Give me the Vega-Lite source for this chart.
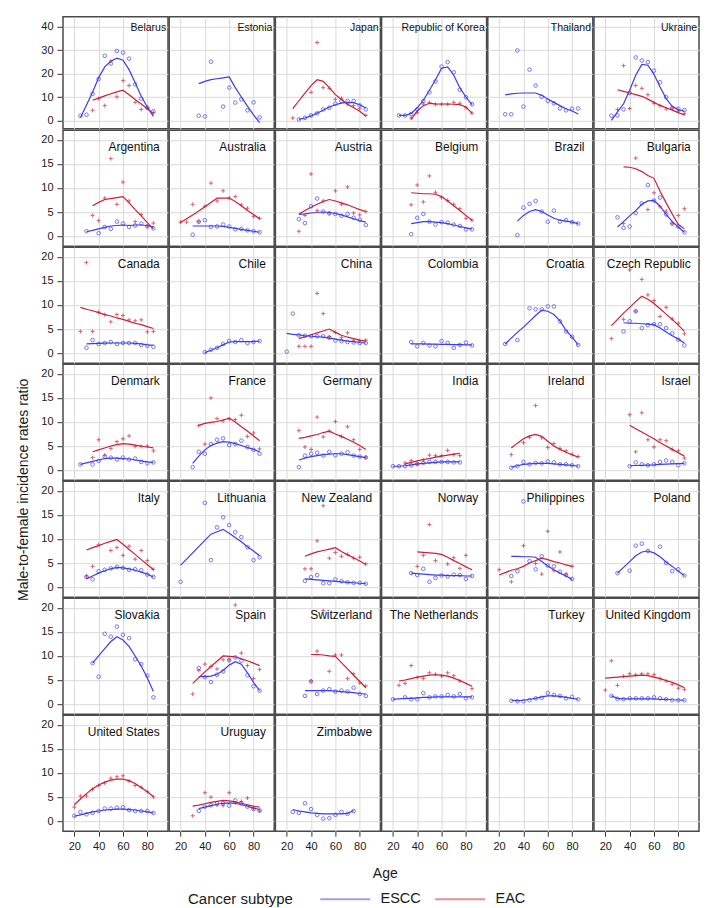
{
"$schema":"https://vega.github.io/schema/vega-lite/v6.json",
"background":"white",
"padding":{"left":16,"top":14.8,"right":5,"bottom":2},
"config":{
 "font":"Liberation Sans",
 "view":{"stroke":"#4a4a4a","strokeWidth":1.5},
 "header":{"labels":false,"labelExpr":"''","labelPadding":0,"titlePadding":0,"labelFontSize":1},
 "axis":{"labelFont":"Liberation Sans","labelFontSize":11,"labelColor":"#1a1a1a","titleFont":"Liberation Sans","titleFontSize":14,"titleFontWeight":"normal","titleColor":"#1a1a1a","tickColor":"#333333","domain":false,"gridWidth":1,"labelOverlap":false,"labelFlush":false},
 "legend":{"orient":"none","legendX":125,"legendY":875,"direction":"horizontal","titleOrient":"left","symbolType":"M-5,0H5","symbolSize":100,"symbolStrokeWidth":2,"symbolOpacity":0.5,"labelFontSize":14.5,"titleFontSize":15,"titleFontWeight":"normal","labelFont":"Liberation Sans","titleFont":"Liberation Sans","labelColor":"#1a1a1a","titleColor":"#1a1a1a","labelOffset":28,"columnPadding":10,"titlePadding":44}
},
"datasets":{
"top":[
{"c":"Belarus","s":"ESCC","a":25,"r":2.0,"f":1.1},{"c":"Belarus","s":"ESCC","a":30,"r":2.4,"f":6.6},{"c":"Belarus","s":"ESCC","a":35,"r":11.4,"f":12},{"c":"Belarus","s":"ESCC","a":40,"r":17.7,"f":18.3},{"c":"Belarus","s":"ESCC","a":45,"r":27.6,"f":22.9},{"c":"Belarus","s":"ESCC","a":50,"r":24.3,"f":25.3},{"c":"Belarus","s":"ESCC","a":55,"r":29.7,"f":26.6},{"c":"Belarus","s":"ESCC","a":60,"r":29,"f":25.7},{"c":"Belarus","s":"ESCC","a":65,"r":26.4,"f":21.7},{"c":"Belarus","s":"ESCC","a":70,"r":15.4,"f":16.1},{"c":"Belarus","s":"ESCC","a":75,"r":9.3,"f":10.3},{"c":"Belarus","s":"ESCC","a":80,"r":5.4,"f":5.7},{"c":"Belarus","s":"ESCC","a":85,"r":3.9,"f":1.7},
{"c":"Belarus","s":"EAC","a":35,"r":4.3,"f":8.6},{"c":"Belarus","s":"EAC","a":40,"r":9.3,"f":9.5},{"c":"Belarus","s":"EAC","a":45,"r":6.3,"f":10.5},{"c":"Belarus","s":"EAC","a":50,"r":25.4,"f":11.4},{"c":"Belarus","s":"EAC","a":55,"r":10.1,"f":12.2},{"c":"Belarus","s":"EAC","a":60,"r":17,"f":12.9},{"c":"Belarus","s":"EAC","a":65,"r":14.9,"f":11},{"c":"Belarus","s":"EAC","a":70,"r":7.7,"f":8.9},{"c":"Belarus","s":"EAC","a":75,"r":4.7,"f":7},{"c":"Belarus","s":"EAC","a":80,"r":5.4,"f":5},{"c":"Belarus","s":"EAC","a":85,"r":3.3,"f":2.9},
{"c":"Estonia","s":"ESCC","a":35,"r":2.0,"f":15.7},{"c":"Estonia","s":"ESCC","a":40,"r":1.7,"f":16.7},{"c":"Estonia","s":"ESCC","a":45,"r":25.1,"f":17.4},{"c":"Estonia","s":"ESCC","a":50,"f":17.8},{"c":"Estonia","s":"ESCC","a":55,"r":5.9,"f":18.2},{"c":"Estonia","s":"ESCC","a":60,"r":14,"f":18.6},{"c":"Estonia","s":"ESCC","a":65,"r":7.6,"f":14},{"c":"Estonia","s":"ESCC","a":70,"r":9,"f":10},{"c":"Estonia","s":"ESCC","a":75,"r":4.3,"f":6.1},{"c":"Estonia","s":"ESCC","a":80,"r":7.7,"f":2.4},{"c":"Estonia","s":"ESCC","a":85,"r":1.3,"f":-1},
{"c":"Japan","s":"ESCC","a":30,"r":0.4,"f":0.4},{"c":"Japan","s":"ESCC","a":35,"r":1.1,"f":1.0},{"c":"Japan","s":"ESCC","a":40,"r":2.1,"f":1.9},{"c":"Japan","s":"ESCC","a":45,"r":3.0,"f":3.1},{"c":"Japan","s":"ESCC","a":50,"r":4.7,"f":4.3},{"c":"Japan","s":"ESCC","a":55,"r":5.4,"f":5.7},{"c":"Japan","s":"ESCC","a":60,"r":7.1,"f":6.7},{"c":"Japan","s":"ESCC","a":65,"r":8.3,"f":7.4},{"c":"Japan","s":"ESCC","a":70,"r":8.3,"f":7.7},{"c":"Japan","s":"ESCC","a":75,"r":8.3,"f":7.6},{"c":"Japan","s":"ESCC","a":80,"r":6.4,"f":6.7},{"c":"Japan","s":"ESCC","a":85,"r":4.7,"f":5.3},
{"c":"Japan","s":"EAC","a":25,"r":1.0,"f":5.0},{"c":"Japan","s":"EAC","a":30,"f":8.4},{"c":"Japan","s":"EAC","a":35,"f":11.7},{"c":"Japan","s":"EAC","a":40,"r":12,"f":14.9},{"c":"Japan","s":"EAC","a":45,"r":33.3,"f":17.4},{"c":"Japan","s":"EAC","a":50,"r":14,"f":16.7},{"c":"Japan","s":"EAC","a":55,"r":13.7,"f":14},{"c":"Japan","s":"EAC","a":60,"r":9,"f":11},{"c":"Japan","s":"EAC","a":65,"r":9.4,"f":8.9},{"c":"Japan","s":"EAC","a":70,"r":7,"f":6.9},{"c":"Japan","s":"EAC","a":75,"r":6.3,"f":5.4},{"c":"Japan","s":"EAC","a":80,"r":5,"f":3.9},{"c":"Japan","s":"EAC","a":85,"r":2.1,"f":1.9},
{"c":"Republic of Korea","s":"ESCC","a":25,"r":2.1,"f":2.1},{"c":"Republic of Korea","s":"ESCC","a":30,"r":2.1,"f":2.1},{"c":"Republic of Korea","s":"ESCC","a":35,"r":2.7,"f":3.0},{"c":"Republic of Korea","s":"ESCC","a":40,"r":4.7,"f":5.4},{"c":"Republic of Korea","s":"ESCC","a":45,"r":8.3,"f":8.6},{"c":"Republic of Korea","s":"ESCC","a":50,"r":12,"f":12.9},{"c":"Republic of Korea","s":"ESCC","a":55,"r":16.7,"f":17.4},{"c":"Republic of Korea","s":"ESCC","a":60,"r":23,"f":22.3},{"c":"Republic of Korea","s":"ESCC","a":65,"r":24.9,"f":22.9},{"c":"Republic of Korea","s":"ESCC","a":70,"r":20.6,"f":19.3},{"c":"Republic of Korea","s":"ESCC","a":75,"r":13.1,"f":14},{"c":"Republic of Korea","s":"ESCC","a":80,"r":9.9,"f":10},{"c":"Republic of Korea","s":"ESCC","a":85,"r":6.9,"f":6.7},
{"c":"Republic of Korea","s":"EAC","a":35,"r":1.0,"f":0.4},{"c":"Republic of Korea","s":"EAC","a":40,"r":3.3,"f":4.0},{"c":"Republic of Korea","s":"EAC","a":45,"r":7.0,"f":6.3},{"c":"Republic of Korea","s":"EAC","a":50,"r":7.7,"f":7.3},{"c":"Republic of Korea","s":"EAC","a":55,"r":6.9,"f":7.1},{"c":"Republic of Korea","s":"EAC","a":60,"r":6.9,"f":7.0},{"c":"Republic of Korea","s":"EAC","a":65,"r":6.9,"f":7.0},{"c":"Republic of Korea","s":"EAC","a":70,"r":7.7,"f":6.9},{"c":"Republic of Korea","s":"EAC","a":75,"r":7.3,"f":6.7},{"c":"Republic of Korea","s":"EAC","a":80,"r":5.4,"f":5.7},{"c":"Republic of Korea","s":"EAC","a":85,"r":3.1,"f":3.1},
{"c":"Thailand","s":"ESCC","a":25,"r":2.6,"f":10.9},{"c":"Thailand","s":"ESCC","a":30,"r":2.6,"f":11.3},{"c":"Thailand","s":"ESCC","a":35,"r":29.9,"f":11.6},{"c":"Thailand","s":"ESCC","a":40,"r":5.9,"f":11.7},{"c":"Thailand","s":"ESCC","a":45,"r":21.7,"f":11.7},{"c":"Thailand","s":"ESCC","a":50,"r":14.9,"f":11.7},{"c":"Thailand","s":"ESCC","a":55,"r":10.1,"f":10.7},{"c":"Thailand","s":"ESCC","a":60,"r":8.3,"f":9.1},{"c":"Thailand","s":"ESCC","a":65,"r":7.3,"f":7.7},{"c":"Thailand","s":"ESCC","a":70,"r":5.1,"f":6.3},{"c":"Thailand","s":"ESCC","a":75,"r":4.3,"f":5.0},{"c":"Thailand","s":"ESCC","a":80,"r":5.0,"f":4.0},{"c":"Thailand","s":"ESCC","a":85,"r":5.1,"f":2.7},
{"c":"Ukraine","s":"ESCC","a":25,"r":2.0,"f":0.0},{"c":"Ukraine","s":"ESCC","a":30,"r":2.1,"f":3.6},{"c":"Ukraine","s":"ESCC","a":35,"r":4.7,"f":7.1},{"c":"Ukraine","s":"ESCC","a":40,"r":11.7,"f":12.9},{"c":"Ukraine","s":"ESCC","a":45,"r":26.9,"f":19.3},{"c":"Ukraine","s":"ESCC","a":50,"r":25.6,"f":23.9},{"c":"Ukraine","s":"ESCC","a":55,"r":24.9,"f":23.6},{"c":"Ukraine","s":"ESCC","a":60,"r":21.3,"f":19.7},{"c":"Ukraine","s":"ESCC","a":65,"r":16.3,"f":14.3},{"c":"Ukraine","s":"ESCC","a":70,"r":9.9,"f":9.3},{"c":"Ukraine","s":"ESCC","a":75,"r":5.4,"f":6.0},{"c":"Ukraine","s":"ESCC","a":80,"r":5.0,"f":4.6},{"c":"Ukraine","s":"ESCC","a":85,"r":4.4,"f":3.9},
{"c":"Ukraine","s":"EAC","a":30,"r":4.7,"f":13.1},{"c":"Ukraine","s":"EAC","a":35,"r":23.4,"f":12.4},{"c":"Ukraine","s":"EAC","a":40,"r":5.1,"f":11.7},{"c":"Ukraine","s":"EAC","a":45,"r":14.9,"f":11.0},{"c":"Ukraine","s":"EAC","a":50,"r":13.7,"f":10.3},{"c":"Ukraine","s":"EAC","a":55,"r":11.0,"f":9.1},{"c":"Ukraine","s":"EAC","a":60,"r":7.3,"f":7.7},{"c":"Ukraine","s":"EAC","a":65,"r":6.3,"f":6.4},{"c":"Ukraine","s":"EAC","a":70,"r":4.9,"f":5.4},{"c":"Ukraine","s":"EAC","a":75,"r":5.3,"f":4.4},{"c":"Ukraine","s":"EAC","a":80,"r":3.9,"f":3.3},{"c":"Ukraine","s":"EAC","a":85,"r":2.9,"f":2.3}
],
"rest":[
{"c":"Argentina","s":"ESCC","a":30,"r":1.0,"f":0.9},{"c":"Argentina","s":"ESCC","a":35,"f":1.2},{"c":"Argentina","s":"ESCC","a":40,"r":0.6,"f":1.5},{"c":"Argentina","s":"ESCC","a":45,"r":1.9,"f":1.8},{"c":"Argentina","s":"ESCC","a":50,"r":1.5,"f":2.1},{"c":"Argentina","s":"ESCC","a":55,"r":3.0,"f":2.2},{"c":"Argentina","s":"ESCC","a":60,"r":2.6,"f":2.3},{"c":"Argentina","s":"ESCC","a":65,"r":1.9,"f":2.2},{"c":"Argentina","s":"ESCC","a":70,"r":2.2,"f":2.3},{"c":"Argentina","s":"ESCC","a":75,"r":2.6,"f":2.3},{"c":"Argentina","s":"ESCC","a":80,"r":2.0,"f":2.2},{"c":"Argentina","s":"ESCC","a":85,"r":1.6,"f":1.9},
{"c":"Argentina","s":"EAC","a":35,"r":4.3,"f":6.3},{"c":"Argentina","s":"EAC","a":40,"r":3.2,"f":7.0},{"c":"Argentina","s":"EAC","a":45,"r":7.9,"f":7.6},{"c":"Argentina","s":"EAC","a":50,"r":16.1,"f":7.8},{"c":"Argentina","s":"EAC","a":55,"r":6.6,"f":8.0},{"c":"Argentina","s":"EAC","a":60,"r":11.2,"f":8.2},{"c":"Argentina","s":"EAC","a":65,"r":7.3,"f":6.9},{"c":"Argentina","s":"EAC","a":70,"r":3.0,"f":5.5},{"c":"Argentina","s":"EAC","a":75,"r":4.5,"f":4.2},{"c":"Argentina","s":"EAC","a":80,"r":2.1,"f":2.8},{"c":"Argentina","s":"EAC","a":85,"r":2.7,"f":1.5},
{"c":"Australia","s":"ESCC","a":30,"r":0.3,"f":2.1},{"c":"Australia","s":"ESCC","a":35,"r":3.0,"f":2.1},{"c":"Australia","s":"ESCC","a":40,"r":3.3,"f":2.1},{"c":"Australia","s":"ESCC","a":45,"r":1.9,"f":2.1},{"c":"Australia","s":"ESCC","a":50,"r":2.0,"f":2.1},{"c":"Australia","s":"ESCC","a":55,"r":2.4,"f":2.0},{"c":"Australia","s":"ESCC","a":60,"r":2.0,"f":1.8},{"c":"Australia","s":"ESCC","a":65,"r":1.4,"f":1.6},{"c":"Australia","s":"ESCC","a":70,"r":1.5,"f":1.4},{"c":"Australia","s":"ESCC","a":75,"r":1.2,"f":1.2},{"c":"Australia","s":"ESCC","a":80,"r":1.0,"f":1.0},{"c":"Australia","s":"ESCC","a":85,"r":0.8,"f":0.8},
{"c":"Australia","s":"EAC","a":20,"r":2.9,"f":2.8},{"c":"Australia","s":"EAC","a":25,"r":2.9,"f":3.6},{"c":"Australia","s":"EAC","a":30,"r":6.6,"f":4.4},{"c":"Australia","s":"EAC","a":35,"r":3.0,"f":5.2},{"c":"Australia","s":"EAC","a":40,"r":6.2,"f":6.1},{"c":"Australia","s":"EAC","a":45,"r":11.0,"f":7.0},{"c":"Australia","s":"EAC","a":50,"r":7.3,"f":7.9},{"c":"Australia","s":"EAC","a":55,"r":9.4,"f":7.9},{"c":"Australia","s":"EAC","a":60,"r":7.9,"f":7.9},{"c":"Australia","s":"EAC","a":65,"r":8.2,"f":7.2},{"c":"Australia","s":"EAC","a":70,"r":6.5,"f":6.3},{"c":"Australia","s":"EAC","a":75,"r":5.8,"f":5.3},{"c":"Australia","s":"EAC","a":80,"r":4.1,"f":4.5},{"c":"Australia","s":"EAC","a":85,"r":3.7,"f":3.6},
{"c":"Austria","s":"ESCC","a":30,"r":3.5,"f":4.5},{"c":"Austria","s":"ESCC","a":35,"r":2.7,"f":4.6},{"c":"Austria","s":"ESCC","a":40,"r":6.2,"f":4.8},{"c":"Austria","s":"ESCC","a":45,"r":7.8,"f":4.9},{"c":"Austria","s":"ESCC","a":50,"r":5.1,"f":5.0},{"c":"Austria","s":"ESCC","a":55,"r":4.7,"f":4.9},{"c":"Austria","s":"ESCC","a":60,"r":4.6,"f":4.7},{"c":"Austria","s":"ESCC","a":65,"r":4.2,"f":4.4},{"c":"Austria","s":"ESCC","a":70,"r":4.6,"f":4.0},{"c":"Austria","s":"ESCC","a":75,"r":3.8,"f":3.6},{"c":"Austria","s":"ESCC","a":80,"r":3.4,"f":3.2},{"c":"Austria","s":"ESCC","a":85,"r":2.3,"f":2.9},
{"c":"Austria","s":"EAC","a":30,"r":1.0,"f":4.6},{"c":"Austria","s":"EAC","a":35,"r":4.3,"f":5.3},{"c":"Austria","s":"EAC","a":40,"r":12.9,"f":6.0},{"c":"Austria","s":"EAC","a":45,"r":5.3,"f":6.6},{"c":"Austria","s":"EAC","a":50,"r":7.3,"f":7.2},{"c":"Austria","s":"EAC","a":55,"r":4.8,"f":7.6},{"c":"Austria","s":"EAC","a":60,"r":9.4,"f":7.3},{"c":"Austria","s":"EAC","a":65,"r":6.6,"f":6.9},{"c":"Austria","s":"EAC","a":70,"r":10.2,"f":6.5},{"c":"Austria","s":"EAC","a":75,"r":4.8,"f":6.0},{"c":"Austria","s":"EAC","a":80,"r":4.4,"f":5.5},{"c":"Austria","s":"EAC","a":85,"r":5.1,"f":5.1},
{"c":"Belgium","s":"ESCC","a":35,"r":0.4,"f":2.6},{"c":"Belgium","s":"ESCC","a":40,"r":3.8,"f":2.8},{"c":"Belgium","s":"ESCC","a":45,"r":4.6,"f":3.0},{"c":"Belgium","s":"ESCC","a":50,"r":3.0,"f":3.0},{"c":"Belgium","s":"ESCC","a":55,"r":2.4,"f":2.9},{"c":"Belgium","s":"ESCC","a":60,"r":2.9,"f":2.8},{"c":"Belgium","s":"ESCC","a":65,"r":2.8,"f":2.6},{"c":"Belgium","s":"ESCC","a":70,"r":2.4,"f":2.3},{"c":"Belgium","s":"ESCC","a":75,"r":2.1,"f":2.0},{"c":"Belgium","s":"ESCC","a":80,"r":1.4,"f":1.7},{"c":"Belgium","s":"ESCC","a":85,"r":1.4,"f":1.5},
{"c":"Belgium","s":"EAC","a":35,"r":6.5,"f":9.0},{"c":"Belgium","s":"EAC","a":40,"r":10.6,"f":8.9},{"c":"Belgium","s":"EAC","a":45,"r":7.1,"f":8.8},{"c":"Belgium","s":"EAC","a":50,"r":12.5,"f":8.8},{"c":"Belgium","s":"EAC","a":55,"r":9.1,"f":8.7},{"c":"Belgium","s":"EAC","a":60,"r":8.0,"f":8.2},{"c":"Belgium","s":"EAC","a":65,"r":7.4,"f":7.3},{"c":"Belgium","s":"EAC","a":70,"r":6.6,"f":6.3},{"c":"Belgium","s":"EAC","a":75,"r":5.7,"f":5.3},{"c":"Belgium","s":"EAC","a":80,"r":3.7,"f":4.3},{"c":"Belgium","s":"EAC","a":85,"r":3.3,"f":3.3},
{"c":"Brazil","s":"ESCC","a":35,"r":0.2,"f":3.1},{"c":"Brazil","s":"ESCC","a":40,"r":5.9,"f":4.3},{"c":"Brazil","s":"ESCC","a":45,"r":6.7,"f":5.1},{"c":"Brazil","s":"ESCC","a":50,"r":7.3,"f":5.5},{"c":"Brazil","s":"ESCC","a":55,"r":5.1,"f":5.1},{"c":"Brazil","s":"ESCC","a":60,"r":3.0,"f":4.4},{"c":"Brazil","s":"ESCC","a":65,"r":5.3,"f":3.7},{"c":"Brazil","s":"ESCC","a":70,"r":3.0,"f":3.3},{"c":"Brazil","s":"ESCC","a":75,"r":3.3,"f":3.1},{"c":"Brazil","s":"ESCC","a":80,"r":2.9,"f":2.9},{"c":"Brazil","s":"ESCC","a":85,"r":2.6,"f":2.6},
{"c":"Bulgaria","s":"ESCC","a":30,"r":3.9,"f":1.9},{"c":"Bulgaria","s":"ESCC","a":35,"r":1.7,"f":3.0},{"c":"Bulgaria","s":"ESCC","a":40,"r":2.0,"f":4.2},{"c":"Bulgaria","s":"ESCC","a":45,"r":4.8,"f":5.3},{"c":"Bulgaria","s":"ESCC","a":50,"r":6.8,"f":6.6},{"c":"Bulgaria","s":"ESCC","a":55,"r":10.6,"f":7.3},{"c":"Bulgaria","s":"ESCC","a":60,"r":7.4,"f":7.4},{"c":"Bulgaria","s":"ESCC","a":65,"r":8.0,"f":6.2},{"c":"Bulgaria","s":"ESCC","a":70,"r":4.5,"f":4.5},{"c":"Bulgaria","s":"ESCC","a":75,"r":2.6,"f":3.0},{"c":"Bulgaria","s":"ESCC","a":80,"r":2.0,"f":1.9},{"c":"Bulgaria","s":"ESCC","a":85,"r":0.8,"f":0.8},
{"c":"Bulgaria","s":"EAC","a":35,"r":2.6,"f":14.4},{"c":"Bulgaria","s":"EAC","a":40,"f":14.3},{"c":"Bulgaria","s":"EAC","a":45,"r":16.2,"f":14.0},{"c":"Bulgaria","s":"EAC","a":50,"f":13.4},{"c":"Bulgaria","s":"EAC","a":55,"r":5.5,"f":12.6},{"c":"Bulgaria","s":"EAC","a":60,"r":9.0,"f":12.0},{"c":"Bulgaria","s":"EAC","a":65,"r":6.1,"f":9.3},{"c":"Bulgaria","s":"EAC","a":70,"r":5.2,"f":6.9},{"c":"Bulgaria","s":"EAC","a":75,"r":2.6,"f":4.6},{"c":"Bulgaria","s":"EAC","a":80,"r":4.3,"f":2.4},{"c":"Bulgaria","s":"EAC","a":85,"r":5.7,"f":1.5},
{"c":"Canada","s":"ESCC","a":30,"r":1.1,"f":1.9},{"c":"Canada","s":"ESCC","a":35,"r":2.7,"f":1.95},{"c":"Canada","s":"ESCC","a":40,"r":1.9,"f":2.0},{"c":"Canada","s":"ESCC","a":45,"r":2.1,"f":2.05},{"c":"Canada","s":"ESCC","a":50,"r":2.3,"f":2.1},{"c":"Canada","s":"ESCC","a":55,"r":1.9,"f":2.1},{"c":"Canada","s":"ESCC","a":60,"r":2.1,"f":2.1},{"c":"Canada","s":"ESCC","a":65,"r":2.1,"f":2.1},{"c":"Canada","s":"ESCC","a":70,"r":2.1,"f":2.0},{"c":"Canada","s":"ESCC","a":75,"r":1.7,"f":1.9},{"c":"Canada","s":"ESCC","a":80,"r":1.5,"f":1.7},{"c":"Canada","s":"ESCC","a":85,"r":1.3,"f":1.6},
{"c":"Canada","s":"EAC","a":25,"r":4.5,"f":9.5},{"c":"Canada","s":"EAC","a":30,"r":18.8,"f":9.1},{"c":"Canada","s":"EAC","a":35,"r":4.5,"f":8.8},{"c":"Canada","s":"EAC","a":40,"r":8.5,"f":8.4},{"c":"Canada","s":"EAC","a":45,"r":8.0,"f":8.0},{"c":"Canada","s":"EAC","a":50,"r":6.5,"f":7.7},{"c":"Canada","s":"EAC","a":55,"r":8.0,"f":7.3},{"c":"Canada","s":"EAC","a":60,"r":7.8,"f":7.0},{"c":"Canada","s":"EAC","a":65,"r":6.9,"f":6.6},{"c":"Canada","s":"EAC","a":70,"r":6.7,"f":6.2},{"c":"Canada","s":"EAC","a":75,"r":6.9,"f":5.9},{"c":"Canada","s":"EAC","a":80,"r":4.4,"f":5.5},{"c":"Canada","s":"EAC","a":85,"r":4.5,"f":5.1},
{"c":"Chile","s":"ESCC","a":40,"r":0.2,"f":0.1},{"c":"Chile","s":"ESCC","a":45,"r":0.7,"f":0.6},{"c":"Chile","s":"ESCC","a":50,"r":1.1,"f":1.1},{"c":"Chile","s":"ESCC","a":55,"r":1.9,"f":1.7},{"c":"Chile","s":"ESCC","a":60,"r":2.5,"f":2.3},{"c":"Chile","s":"ESCC","a":65,"r":2.3,"f":2.4},{"c":"Chile","s":"ESCC","a":70,"r":2.7,"f":2.4},{"c":"Chile","s":"ESCC","a":75,"r":2.1,"f":2.4},{"c":"Chile","s":"ESCC","a":80,"r":2.3,"f":2.4},{"c":"Chile","s":"ESCC","a":85,"r":2.5,"f":2.5},
{"c":"China","s":"ESCC","a":20,"r":0.3,"f":4.1},{"c":"China","s":"ESCC","a":25,"r":8.2,"f":3.9},{"c":"China","s":"ESCC","a":30,"r":3.7,"f":3.8},{"c":"China","s":"ESCC","a":35,"r":3.6,"f":3.6},{"c":"China","s":"ESCC","a":40,"r":3.5,"f":3.5},{"c":"China","s":"ESCC","a":45,"r":3.5,"f":3.4},{"c":"China","s":"ESCC","a":50,"r":3.5,"f":3.3},{"c":"China","s":"ESCC","a":55,"r":3.2,"f":3.1},{"c":"China","s":"ESCC","a":60,"r":2.6,"f":2.9},{"c":"China","s":"ESCC","a":65,"r":2.5,"f":2.7},{"c":"China","s":"ESCC","a":70,"r":2.3,"f":2.5},{"c":"China","s":"ESCC","a":75,"r":2.2,"f":2.4},{"c":"China","s":"ESCC","a":80,"r":2.1,"f":2.2},{"c":"China","s":"ESCC","a":85,"r":2.1,"f":2.1},
{"c":"China","s":"EAC","a":30,"r":1.4,"f":3.0},{"c":"China","s":"EAC","a":35,"r":1.4,"f":3.4},{"c":"China","s":"EAC","a":40,"r":1.4,"f":3.8},{"c":"China","s":"EAC","a":45,"r":12.4,"f":4.2},{"c":"China","s":"EAC","a":50,"r":8.2,"f":4.6},{"c":"China","s":"EAC","a":55,"r":3.4,"f":5.0},{"c":"China","s":"EAC","a":60,"r":4.3,"f":4.3},{"c":"China","s":"EAC","a":65,"r":3.2,"f":3.7},{"c":"China","s":"EAC","a":70,"r":4.2,"f":3.3},{"c":"China","s":"EAC","a":75,"r":2.5,"f":3.0},{"c":"China","s":"EAC","a":80,"r":2.6,"f":2.7},{"c":"China","s":"EAC","a":85,"r":2.7,"f":2.5},
{"c":"Colombia","s":"ESCC","a":35,"r":2.3,"f":1.9},{"c":"Colombia","s":"ESCC","a":40,"r":1.4,"f":1.9},{"c":"Colombia","s":"ESCC","a":45,"r":2.1,"f":1.9},{"c":"Colombia","s":"ESCC","a":50,"r":1.6,"f":1.85},{"c":"Colombia","s":"ESCC","a":55,"r":1.4,"f":1.85},{"c":"Colombia","s":"ESCC","a":60,"r":2.5,"f":1.8},{"c":"Colombia","s":"ESCC","a":65,"r":2.1,"f":1.8},{"c":"Colombia","s":"ESCC","a":70,"r":1.1,"f":1.75},{"c":"Colombia","s":"ESCC","a":75,"r":1.7,"f":1.75},{"c":"Colombia","s":"ESCC","a":80,"r":2.2,"f":1.7},{"c":"Colombia","s":"ESCC","a":85,"r":1.6,"f":1.7},
{"c":"Croatia","s":"ESCC","a":25,"r":1.9,"f":1.9},{"c":"Croatia","s":"ESCC","a":30,"f":3.1},{"c":"Croatia","s":"ESCC","a":35,"r":2.7,"f":4.3},{"c":"Croatia","s":"ESCC","a":40,"f":5.4},{"c":"Croatia","s":"ESCC","a":45,"r":9.3,"f":6.6},{"c":"Croatia","s":"ESCC","a":50,"r":9.1,"f":7.8},{"c":"Croatia","s":"ESCC","a":55,"r":9.1,"f":8.9},{"c":"Croatia","s":"ESCC","a":60,"r":9.7,"f":8.7},{"c":"Croatia","s":"ESCC","a":65,"r":9.7,"f":8.0},{"c":"Croatia","s":"ESCC","a":70,"r":6.6,"f":6.7},{"c":"Croatia","s":"ESCC","a":75,"r":4.5,"f":4.7},{"c":"Croatia","s":"ESCC","a":80,"r":3.4,"f":3.3},{"c":"Croatia","s":"ESCC","a":85,"r":1.7,"f":1.7},
{"c":"Czech Republic","s":"ESCC","a":35,"r":4.5,"f":6.3},{"c":"Czech Republic","s":"ESCC","a":40,"r":6.6,"f":6.2},{"c":"Czech Republic","s":"ESCC","a":45,"r":8.7,"f":6.2},{"c":"Czech Republic","s":"ESCC","a":50,"r":5.2,"f":6.1},{"c":"Czech Republic","s":"ESCC","a":55,"r":5.8,"f":6.0},{"c":"Czech Republic","s":"ESCC","a":60,"r":6.0,"f":5.9},{"c":"Czech Republic","s":"ESCC","a":65,"r":6.0,"f":5.2},{"c":"Czech Republic","s":"ESCC","a":70,"r":5.2,"f":4.4},{"c":"Czech Republic","s":"ESCC","a":75,"r":4.1,"f":3.6},{"c":"Czech Republic","s":"ESCC","a":80,"r":2.8,"f":2.9},{"c":"Czech Republic","s":"ESCC","a":85,"r":1.6,"f":2.1},
{"c":"Czech Republic","s":"EAC","a":25,"r":3.0,"f":5.7},{"c":"Czech Republic","s":"EAC","a":30,"f":7.0},{"c":"Czech Republic","s":"EAC","a":35,"r":7.0,"f":8.3},{"c":"Czech Republic","s":"EAC","a":40,"r":17.3,"f":9.5},{"c":"Czech Republic","s":"EAC","a":45,"r":8.7,"f":10.7},{"c":"Czech Republic","s":"EAC","a":50,"r":15.3,"f":11.8},{"c":"Czech Republic","s":"EAC","a":55,"r":12.1,"f":11.2},{"c":"Czech Republic","s":"EAC","a":60,"r":10.9,"f":10.3},{"c":"Czech Republic","s":"EAC","a":65,"r":7.6,"f":9.2},{"c":"Czech Republic","s":"EAC","a":70,"r":9.5,"f":8.1},{"c":"Czech Republic","s":"EAC","a":75,"r":7.1,"f":7.0},{"c":"Czech Republic","s":"EAC","a":80,"r":6.2,"f":5.8},{"c":"Czech Republic","s":"EAC","a":85,"r":4.0,"f":4.5},
{"c":"Denmark","s":"ESCC","a":25,"r":1.2,"f":1.2},{"c":"Denmark","s":"ESCC","a":30,"f":1.5},{"c":"Denmark","s":"ESCC","a":35,"r":1.2,"f":1.8},{"c":"Denmark","s":"ESCC","a":40,"r":1.9,"f":2.1},{"c":"Denmark","s":"ESCC","a":45,"r":2.8,"f":2.4},{"c":"Denmark","s":"ESCC","a":50,"r":2.6,"f":2.5},{"c":"Denmark","s":"ESCC","a":55,"r":2.2,"f":2.5},{"c":"Denmark","s":"ESCC","a":60,"r":2.6,"f":2.4},{"c":"Denmark","s":"ESCC","a":65,"r":2.2,"f":2.3},{"c":"Denmark","s":"ESCC","a":70,"r":2.4,"f":2.1},{"c":"Denmark","s":"ESCC","a":75,"r":1.7,"f":1.9},{"c":"Denmark","s":"ESCC","a":80,"r":1.4,"f":1.7},{"c":"Denmark","s":"ESCC","a":85,"r":1.6,"f":1.6},
{"c":"Denmark","s":"EAC","a":35,"r":2.6,"f":3.8},{"c":"Denmark","s":"EAC","a":40,"r":6.3,"f":4.2},{"c":"Denmark","s":"EAC","a":45,"r":3.1,"f":4.6},{"c":"Denmark","s":"EAC","a":50,"r":4.5,"f":5.0},{"c":"Denmark","s":"EAC","a":55,"r":5.9,"f":5.3},{"c":"Denmark","s":"EAC","a":60,"r":6.5,"f":5.5},{"c":"Denmark","s":"EAC","a":65,"r":7.1,"f":5.4},{"c":"Denmark","s":"EAC","a":70,"r":4.9,"f":5.2},{"c":"Denmark","s":"EAC","a":75,"r":4.9,"f":5.0},{"c":"Denmark","s":"EAC","a":80,"r":5.0,"f":4.8},{"c":"Denmark","s":"EAC","a":85,"r":4.0,"f":4.6},
{"c":"France","s":"ESCC","a":30,"r":0.6,"f":1.4},{"c":"France","s":"ESCC","a":35,"r":3.8,"f":2.9},{"c":"France","s":"ESCC","a":40,"r":3.4,"f":4.2},{"c":"France","s":"ESCC","a":45,"r":5.4,"f":5.1},{"c":"France","s":"ESCC","a":50,"r":6.3,"f":5.6},{"c":"France","s":"ESCC","a":55,"r":6.6,"f":5.9},{"c":"France","s":"ESCC","a":60,"r":5.2,"f":5.8},{"c":"France","s":"ESCC","a":65,"r":5.4,"f":5.5},{"c":"France","s":"ESCC","a":70,"r":6.1,"f":5.1},{"c":"France","s":"ESCC","a":75,"r":4.8,"f":4.7},{"c":"France","s":"ESCC","a":80,"r":4.2,"f":4.3},{"c":"France","s":"ESCC","a":85,"r":3.4,"f":3.8},
{"c":"France","s":"EAC","a":35,"r":9.2,"f":9.3},{"c":"France","s":"EAC","a":40,"r":5.4,"f":9.7},{"c":"France","s":"EAC","a":45,"r":15.0,"f":9.9},{"c":"France","s":"EAC","a":50,"r":10.7,"f":10.1},{"c":"France","s":"EAC","a":55,"r":10.2,"f":10.4},{"c":"France","s":"EAC","a":60,"r":10.6,"f":10.8},{"c":"France","s":"EAC","a":65,"r":10.5,"f":10.0},{"c":"France","s":"EAC","a":70,"r":11.4,"f":9.0},{"c":"France","s":"EAC","a":75,"r":7.0,"f":8.1},{"c":"France","s":"EAC","a":80,"r":7.7,"f":7.1},{"c":"France","s":"EAC","a":85,"r":4.4,"f":6.1},
{"c":"Germany","s":"ESCC","a":30,"r":0.6,"f":2.1},{"c":"Germany","s":"ESCC","a":35,"r":3.0,"f":2.5},{"c":"Germany","s":"ESCC","a":40,"r":3.4,"f":2.8},{"c":"Germany","s":"ESCC","a":45,"r":3.6,"f":3.0},{"c":"Germany","s":"ESCC","a":50,"r":3.0,"f":3.2},{"c":"Germany","s":"ESCC","a":55,"r":3.8,"f":3.3},{"c":"Germany","s":"ESCC","a":60,"r":3.1,"f":3.4},{"c":"Germany","s":"ESCC","a":65,"r":3.4,"f":3.4},{"c":"Germany","s":"ESCC","a":70,"r":3.7,"f":3.2},{"c":"Germany","s":"ESCC","a":75,"r":3.0,"f":3.0},{"c":"Germany","s":"ESCC","a":80,"r":2.8,"f":2.8},{"c":"Germany","s":"ESCC","a":85,"r":2.6,"f":2.6},
{"c":"Germany","s":"EAC","a":30,"r":8.2,"f":6.6},{"c":"Germany","s":"EAC","a":35,"r":4.8,"f":6.8},{"c":"Germany","s":"EAC","a":40,"r":4.3,"f":7.1},{"c":"Germany","s":"EAC","a":45,"r":11.0,"f":7.4},{"c":"Germany","s":"EAC","a":50,"r":6.9,"f":7.8},{"c":"Germany","s":"EAC","a":55,"r":8.1,"f":8.1},{"c":"Germany","s":"EAC","a":60,"r":10.1,"f":7.5},{"c":"Germany","s":"EAC","a":65,"r":7.0,"f":7.0},{"c":"Germany","s":"EAC","a":70,"r":9.0,"f":6.4},{"c":"Germany","s":"EAC","a":75,"r":6.3,"f":5.8},{"c":"Germany","s":"EAC","a":80,"r":4.3,"f":5.1},{"c":"Germany","s":"EAC","a":85,"r":2.7,"f":4.3},
{"c":"India","s":"ESCC","a":20,"r":0.8,"f":0.8},{"c":"India","s":"ESCC","a":25,"r":0.8,"f":0.8},{"c":"India","s":"ESCC","a":30,"r":0.8,"f":0.9},{"c":"India","s":"ESCC","a":35,"r":1.0,"f":1.1},{"c":"India","s":"ESCC","a":40,"r":1.3,"f":1.3},{"c":"India","s":"ESCC","a":45,"r":1.5,"f":1.4},{"c":"India","s":"ESCC","a":50,"r":1.7,"f":1.5},{"c":"India","s":"ESCC","a":55,"r":1.7,"f":1.6},{"c":"India","s":"ESCC","a":60,"r":1.7,"f":1.7},{"c":"India","s":"ESCC","a":65,"r":1.7,"f":1.7},{"c":"India","s":"ESCC","a":70,"r":1.6,"f":1.7},{"c":"India","s":"ESCC","a":75,"r":1.6,"f":1.7},
{"c":"India","s":"EAC","a":30,"r":1.5,"f":1.3},{"c":"India","s":"EAC","a":35,"r":2.0,"f":1.6},{"c":"India","s":"EAC","a":40,"r":1.2,"f":1.9},{"c":"India","s":"EAC","a":45,"r":2.1,"f":2.2},{"c":"India","s":"EAC","a":50,"r":3.1,"f":2.4},{"c":"India","s":"EAC","a":55,"r":3.0,"f":2.7},{"c":"India","s":"EAC","a":60,"r":3.0,"f":2.9},{"c":"India","s":"EAC","a":65,"r":4.1,"f":3.1},{"c":"India","s":"EAC","a":70,"r":3.2,"f":3.3},{"c":"India","s":"EAC","a":75,"r":3.0,"f":3.5},
{"c":"Ireland","s":"ESCC","a":30,"r":0.5,"f":0.6},{"c":"Ireland","s":"ESCC","a":35,"r":0.8,"f":0.9},{"c":"Ireland","s":"ESCC","a":40,"r":1.7,"f":1.2},{"c":"Ireland","s":"ESCC","a":45,"r":1.2,"f":1.3},{"c":"Ireland","s":"ESCC","a":50,"r":1.5,"f":1.4},{"c":"Ireland","s":"ESCC","a":55,"r":1.4,"f":1.4},{"c":"Ireland","s":"ESCC","a":60,"r":1.8,"f":1.4},{"c":"Ireland","s":"ESCC","a":65,"r":1.6,"f":1.3},{"c":"Ireland","s":"ESCC","a":70,"r":1.2,"f":1.2},{"c":"Ireland","s":"ESCC","a":75,"r":1.2,"f":1.1},{"c":"Ireland","s":"ESCC","a":80,"r":1.0,"f":1.0},{"c":"Ireland","s":"ESCC","a":85,"r":0.8,"f":0.8},
{"c":"Ireland","s":"EAC","a":30,"r":3.2,"f":4.6},{"c":"Ireland","s":"EAC","a":35,"f":5.6},{"c":"Ireland","s":"EAC","a":40,"r":5.7,"f":6.5},{"c":"Ireland","s":"EAC","a":45,"r":6.8,"f":7.1},{"c":"Ireland","s":"EAC","a":50,"r":13.4,"f":7.4},{"c":"Ireland","s":"EAC","a":55,"r":6.7,"f":7.0},{"c":"Ireland","s":"EAC","a":60,"r":4.7,"f":6.0},{"c":"Ireland","s":"EAC","a":65,"r":5.5,"f":5.0},{"c":"Ireland","s":"EAC","a":70,"r":4.5,"f":4.3},{"c":"Ireland","s":"EAC","a":75,"r":4.0,"f":3.7},{"c":"Ireland","s":"EAC","a":80,"r":3.3,"f":3.2},{"c":"Ireland","s":"EAC","a":85,"r":2.8,"f":2.7},
{"c":"Israel","s":"ESCC","a":40,"r":0.8,"f":0.9},{"c":"Israel","s":"ESCC","a":45,"r":1.6,"f":0.95},{"c":"Israel","s":"ESCC","a":50,"r":1.2,"f":1.0},{"c":"Israel","s":"ESCC","a":55,"r":1.0,"f":1.05},{"c":"Israel","s":"ESCC","a":60,"r":1.2,"f":1.1},{"c":"Israel","s":"ESCC","a":65,"r":1.7,"f":1.2},{"c":"Israel","s":"ESCC","a":70,"r":2.0,"f":1.25},{"c":"Israel","s":"ESCC","a":75,"r":1.7,"f":1.3},{"c":"Israel","s":"ESCC","a":80,"r":1.0,"f":1.35},{"c":"Israel","s":"ESCC","a":85,"r":1.4,"f":1.4},
{"c":"Israel","s":"EAC","a":40,"r":11.5,"f":9.3},{"c":"Israel","s":"EAC","a":45,"r":3.8,"f":8.6},{"c":"Israel","s":"EAC","a":50,"r":11.9,"f":7.9},{"c":"Israel","s":"EAC","a":55,"r":6.3,"f":7.2},{"c":"Israel","s":"EAC","a":60,"r":4.8,"f":6.5},{"c":"Israel","s":"EAC","a":65,"r":6.3,"f":5.7},{"c":"Israel","s":"EAC","a":70,"r":6.1,"f":5.0},{"c":"Israel","s":"EAC","a":75,"r":4.3,"f":4.3},{"c":"Israel","s":"EAC","a":80,"r":4.0,"f":3.6},{"c":"Israel","s":"EAC","a":85,"r":2.5,"f":2.9},
{"c":"Italy","s":"ESCC","a":30,"r":2.1,"f":1.7},{"c":"Italy","s":"ESCC","a":35,"r":1.6,"f":2.3},{"c":"Italy","s":"ESCC","a":40,"r":3.3,"f":2.9},{"c":"Italy","s":"ESCC","a":45,"r":3.6,"f":3.4},{"c":"Italy","s":"ESCC","a":50,"r":3.9,"f":3.8},{"c":"Italy","s":"ESCC","a":55,"r":4.2,"f":4.1},{"c":"Italy","s":"ESCC","a":60,"r":4.0,"f":4.0},{"c":"Italy","s":"ESCC","a":65,"r":3.6,"f":3.8},{"c":"Italy","s":"ESCC","a":70,"r":3.7,"f":3.5},{"c":"Italy","s":"ESCC","a":75,"r":3.5,"f":3.1},{"c":"Italy","s":"ESCC","a":80,"r":2.6,"f":2.7},{"c":"Italy","s":"ESCC","a":85,"r":2.1,"f":2.1},
{"c":"Italy","s":"EAC","a":30,"r":2.3,"f":7.7},{"c":"Italy","s":"EAC","a":35,"r":4.3,"f":8.2},{"c":"Italy","s":"EAC","a":40,"r":8.8,"f":8.6},{"c":"Italy","s":"EAC","a":45,"f":9.1},{"c":"Italy","s":"EAC","a":50,"r":7.6,"f":9.5},{"c":"Italy","s":"EAC","a":55,"r":8.2,"f":9.9},{"c":"Italy","s":"EAC","a":60,"r":6.6,"f":8.9},{"c":"Italy","s":"EAC","a":65,"r":8.5,"f":7.8},{"c":"Italy","s":"EAC","a":70,"r":5.8,"f":6.8},{"c":"Italy","s":"EAC","a":75,"r":7.6,"f":5.7},{"c":"Italy","s":"EAC","a":80,"r":5.5,"f":4.7},{"c":"Italy","s":"EAC","a":85,"r":3.7,"f":3.6},
{"c":"Lithuania","s":"ESCC","a":20,"r":1.1,"f":4.5},{"c":"Lithuania","s":"ESCC","a":25,"f":5.8},{"c":"Lithuania","s":"ESCC","a":30,"f":7.1},{"c":"Lithuania","s":"ESCC","a":35,"f":8.4},{"c":"Lithuania","s":"ESCC","a":40,"r":17.5,"f":9.7},{"c":"Lithuania","s":"ESCC","a":45,"r":5.6,"f":11.0},{"c":"Lithuania","s":"ESCC","a":50,"r":12.4,"f":11.5},{"c":"Lithuania","s":"ESCC","a":55,"r":14.5,"f":12.0},{"c":"Lithuania","s":"ESCC","a":60,"r":12.9,"f":11.2},{"c":"Lithuania","s":"ESCC","a":65,"r":11.4,"f":10.3},{"c":"Lithuania","s":"ESCC","a":70,"r":10.4,"f":9.4},{"c":"Lithuania","s":"ESCC","a":75,"r":8.3,"f":8.4},{"c":"Lithuania","s":"ESCC","a":80,"r":5.6,"f":7.5},{"c":"Lithuania","s":"ESCC","a":85,"r":6.2,"f":6.5},
{"c":"New Zealand","s":"ESCC","a":35,"r":1.3,"f":1.7},{"c":"New Zealand","s":"ESCC","a":40,"r":2.1,"f":1.6},{"c":"New Zealand","s":"ESCC","a":45,"r":2.5,"f":1.5},{"c":"New Zealand","s":"ESCC","a":50,"r":0.8,"f":1.4},{"c":"New Zealand","s":"ESCC","a":55,"r":0.8,"f":1.3},{"c":"New Zealand","s":"ESCC","a":60,"r":1.6,"f":1.2},{"c":"New Zealand","s":"ESCC","a":65,"r":1.2,"f":1.1},{"c":"New Zealand","s":"ESCC","a":70,"r":1.0,"f":1.0},{"c":"New Zealand","s":"ESCC","a":75,"r":0.9,"f":0.9},{"c":"New Zealand","s":"ESCC","a":80,"r":0.9,"f":0.8},{"c":"New Zealand","s":"ESCC","a":85,"r":0.7,"f":0.7},
{"c":"New Zealand","s":"EAC","a":35,"r":3.8,"f":6.4},{"c":"New Zealand","s":"EAC","a":40,"r":3.8,"f":6.9},{"c":"New Zealand","s":"EAC","a":45,"r":9.6,"f":7.3},{"c":"New Zealand","s":"EAC","a":50,"r":16.9,"f":7.6},{"c":"New Zealand","s":"EAC","a":55,"r":6.0,"f":7.9},{"c":"New Zealand","s":"EAC","a":60,"r":7.2,"f":8.2},{"c":"New Zealand","s":"EAC","a":65,"r":6.4,"f":7.4},{"c":"New Zealand","s":"EAC","a":70,"r":6.8,"f":6.7},{"c":"New Zealand","s":"EAC","a":75,"r":6.0,"f":6.1},{"c":"New Zealand","s":"EAC","a":80,"r":6.2,"f":5.4},{"c":"New Zealand","s":"EAC","a":85,"r":4.8,"f":4.7},
{"c":"Norway","s":"ESCC","a":35,"r":2.9,"f":2.9},{"c":"Norway","s":"ESCC","a":40,"r":2.5,"f":2.8},{"c":"Norway","s":"ESCC","a":45,"r":3.8,"f":2.7},{"c":"Norway","s":"ESCC","a":50,"r":1.1,"f":2.6},{"c":"Norway","s":"ESCC","a":55,"r":1.9,"f":2.5},{"c":"Norway","s":"ESCC","a":60,"r":2.4,"f":2.5},{"c":"Norway","s":"ESCC","a":65,"r":2.2,"f":2.4},{"c":"Norway","s":"ESCC","a":70,"r":2.6,"f":2.4},{"c":"Norway","s":"ESCC","a":75,"r":2.5,"f":2.4},{"c":"Norway","s":"ESCC","a":80,"r":1.7,"f":2.3},{"c":"Norway","s":"ESCC","a":85,"r":2.3,"f":2.3},
{"c":"Norway","s":"EAC","a":40,"r":4.3,"f":7.3},{"c":"Norway","s":"EAC","a":45,"r":6.6,"f":7.2},{"c":"Norway","s":"EAC","a":50,"r":13.0,"f":7.1},{"c":"Norway","s":"EAC","a":55,"r":5.5,"f":7.0},{"c":"Norway","s":"EAC","a":60,"f":6.8},{"c":"Norway","s":"EAC","a":65,"r":4.8,"f":6.2},{"c":"Norway","s":"EAC","a":70,"r":6.1,"f":5.5},{"c":"Norway","s":"EAC","a":75,"r":3.9,"f":4.9},{"c":"Norway","s":"EAC","a":80,"r":6.6,"f":4.2},{"c":"Norway","s":"EAC","a":85,"f":3.6},
{"c":"Philippines","s":"ESCC","a":30,"r":2.3,"f":6.4},{"c":"Philippines","s":"ESCC","a":35,"r":3.3,"f":6.4},{"c":"Philippines","s":"ESCC","a":40,"r":17.8,"f":6.3},{"c":"Philippines","s":"ESCC","a":45,"r":5.4,"f":6.3},{"c":"Philippines","s":"ESCC","a":50,"r":3.7,"f":6.2},{"c":"Philippines","s":"ESCC","a":55,"r":6.4,"f":5.3},{"c":"Philippines","s":"ESCC","a":60,"r":4.5,"f":4.4},{"c":"Philippines","s":"ESCC","a":65,"r":4.3,"f":3.6},{"c":"Philippines","s":"ESCC","a":70,"r":3.2,"f":2.9},{"c":"Philippines","s":"ESCC","a":75,"r":2.5,"f":2.3},{"c":"Philippines","s":"ESCC","a":80,"r":1.7,"f":1.6},
{"c":"Philippines","s":"EAC","a":20,"r":3.6,"f":2.5},{"c":"Philippines","s":"EAC","a":25,"f":3.0},{"c":"Philippines","s":"EAC","a":30,"r":1.1,"f":3.5},{"c":"Philippines","s":"EAC","a":35,"f":3.8},{"c":"Philippines","s":"EAC","a":40,"r":8.6,"f":4.3},{"c":"Philippines","s":"EAC","a":45,"f":5.0},{"c":"Philippines","s":"EAC","a":50,"r":4.9,"f":5.5},{"c":"Philippines","s":"EAC","a":55,"r":2.7,"f":6.0},{"c":"Philippines","s":"EAC","a":60,"r":11.6,"f":5.7},{"c":"Philippines","s":"EAC","a":65,"r":3.4,"f":5.3},{"c":"Philippines","s":"EAC","a":70,"r":7.3,"f":5.0},{"c":"Philippines","s":"EAC","a":75,"r":2.7,"f":4.6},{"c":"Philippines","s":"EAC","a":80,"r":4.3,"f":4.3},
{"c":"Poland","s":"ESCC","a":30,"r":2.9,"f":2.9},{"c":"Poland","s":"ESCC","a":35,"f":4.1},{"c":"Poland","s":"ESCC","a":40,"r":3.4,"f":5.3},{"c":"Poland","s":"ESCC","a":45,"r":8.6,"f":6.5},{"c":"Poland","s":"ESCC","a":50,"r":9.0,"f":7.3},{"c":"Poland","s":"ESCC","a":55,"r":7.5,"f":7.5},{"c":"Poland","s":"ESCC","a":60,"f":7.1},{"c":"Poland","s":"ESCC","a":65,"r":8.4,"f":6.3},{"c":"Poland","s":"ESCC","a":70,"r":5.0,"f":5.2},{"c":"Poland","s":"ESCC","a":75,"r":3.3,"f":4.3},{"c":"Poland","s":"ESCC","a":80,"r":3.7,"f":3.3},{"c":"Poland","s":"ESCC","a":85,"r":2.4,"f":2.4},
{"c":"Slovakia","s":"ESCC","a":35,"r":8.5,"f":8.5},{"c":"Slovakia","s":"ESCC","a":40,"r":5.7,"f":10.0},{"c":"Slovakia","s":"ESCC","a":45,"r":14.6,"f":11.5},{"c":"Slovakia","s":"ESCC","a":50,"r":14.0,"f":13.0},{"c":"Slovakia","s":"ESCC","a":55,"r":16.1,"f":14.0},{"c":"Slovakia","s":"ESCC","a":60,"r":14.4,"f":13.3},{"c":"Slovakia","s":"ESCC","a":65,"r":13.7,"f":12.0},{"c":"Slovakia","s":"ESCC","a":70,"r":9.3,"f":10.0},{"c":"Slovakia","s":"ESCC","a":75,"r":8.3,"f":7.9},{"c":"Slovakia","s":"ESCC","a":80,"r":5.9,"f":5.4},{"c":"Slovakia","s":"ESCC","a":85,"r":1.4,"f":2.6},
{"c":"Spain","s":"ESCC","a":35,"r":7.5,"f":5.7},{"c":"Spain","s":"ESCC","a":40,"r":5.6,"f":5.7},{"c":"Spain","s":"ESCC","a":45,"r":4.6,"f":5.8},{"c":"Spain","s":"ESCC","a":50,"r":6.1,"f":6.2},{"c":"Spain","s":"ESCC","a":55,"r":6.8,"f":7.0},{"c":"Spain","s":"ESCC","a":60,"r":9.1,"f":8.1},{"c":"Spain","s":"ESCC","a":65,"r":9.7,"f":8.8},{"c":"Spain","s":"ESCC","a":70,"r":9.0,"f":8.3},{"c":"Spain","s":"ESCC","a":75,"r":6.0,"f":6.5},{"c":"Spain","s":"ESCC","a":80,"r":3.7,"f":4.5},{"c":"Spain","s":"ESCC","a":85,"r":2.8,"f":2.8},
{"c":"Spain","s":"EAC","a":30,"r":2.1,"f":4.3},{"c":"Spain","s":"EAC","a":35,"r":7.0,"f":5.5},{"c":"Spain","s":"EAC","a":40,"r":8.3,"f":6.7},{"c":"Spain","s":"EAC","a":45,"r":7.8,"f":7.8},{"c":"Spain","s":"EAC","a":50,"r":7.3,"f":8.9},{"c":"Spain","s":"EAC","a":55,"r":9.2,"f":10.0},{"c":"Spain","s":"EAC","a":60,"r":9.2,"f":9.9},{"c":"Spain","s":"EAC","a":65,"r":20.6,"f":9.8},{"c":"Spain","s":"EAC","a":70,"r":10.6,"f":9.4},{"c":"Spain","s":"EAC","a":75,"r":8.0,"f":9.0},{"c":"Spain","s":"EAC","a":80,"r":5.3,"f":8.5},{"c":"Spain","s":"EAC","a":85,"r":7.2,"f":8.0},
{"c":"Switzerland","s":"ESCC","a":35,"r":1.7,"f":2.8},{"c":"Switzerland","s":"ESCC","a":40,"r":4.7,"f":2.8},{"c":"Switzerland","s":"ESCC","a":45,"r":2.1,"f":2.8},{"c":"Switzerland","s":"ESCC","a":50,"r":2.8,"f":2.8},{"c":"Switzerland","s":"ESCC","a":55,"r":3.1,"f":2.8},{"c":"Switzerland","s":"ESCC","a":60,"r":2.6,"f":2.7},{"c":"Switzerland","s":"ESCC","a":65,"r":2.8,"f":2.6},{"c":"Switzerland","s":"ESCC","a":70,"r":2.6,"f":2.5},{"c":"Switzerland","s":"ESCC","a":75,"r":3.4,"f":2.4},{"c":"Switzerland","s":"ESCC","a":80,"r":2.1,"f":2.2},{"c":"Switzerland","s":"ESCC","a":85,"r":1.7,"f":2.1},
{"c":"Switzerland","s":"EAC","a":40,"r":4.8,"f":10.3},{"c":"Switzerland","s":"EAC","a":45,"r":11.0,"f":10.3},{"c":"Switzerland","s":"EAC","a":50,"r":19.4,"f":10.2},{"c":"Switzerland","s":"EAC","a":55,"r":6.8,"f":10.0},{"c":"Switzerland","s":"EAC","a":60,"r":10.2,"f":9.9},{"c":"Switzerland","s":"EAC","a":65,"r":10.2,"f":8.6},{"c":"Switzerland","s":"EAC","a":70,"r":5.3,"f":7.3},{"c":"Switzerland","s":"EAC","a":75,"r":6.3,"f":6.0},{"c":"Switzerland","s":"EAC","a":80,"r":4.4,"f":4.7},{"c":"Switzerland","s":"EAC","a":85,"r":3.8,"f":3.4},
{"c":"The Netherlands","s":"ESCC","a":20,"r":1.0,"f":1.0},{"c":"The Netherlands","s":"ESCC","a":25,"f":1.1},{"c":"The Netherlands","s":"ESCC","a":30,"r":1.4,"f":1.2},{"c":"The Netherlands","s":"ESCC","a":35,"r":1.0,"f":1.2},{"c":"The Netherlands","s":"ESCC","a":40,"r":1.0,"f":1.3},{"c":"The Netherlands","s":"ESCC","a":45,"r":2.3,"f":1.4},{"c":"The Netherlands","s":"ESCC","a":50,"r":1.4,"f":1.4},{"c":"The Netherlands","s":"ESCC","a":55,"r":1.6,"f":1.5},{"c":"The Netherlands","s":"ESCC","a":60,"r":1.6,"f":1.5},{"c":"The Netherlands","s":"ESCC","a":65,"r":1.9,"f":1.5},{"c":"The Netherlands","s":"ESCC","a":70,"r":1.6,"f":1.5},{"c":"The Netherlands","s":"ESCC","a":75,"r":2.1,"f":1.5},{"c":"The Netherlands","s":"ESCC","a":80,"r":1.2,"f":1.5},{"c":"The Netherlands","s":"ESCC","a":85,"r":1.4,"f":1.5},
{"c":"The Netherlands","s":"EAC","a":25,"r":3.9,"f":4.8},{"c":"The Netherlands","s":"EAC","a":30,"r":4.3,"f":5.0},{"c":"The Netherlands","s":"EAC","a":35,"r":8.0,"f":5.3},{"c":"The Netherlands","s":"EAC","a":40,"r":5.5,"f":5.6},{"c":"The Netherlands","s":"EAC","a":45,"r":5.3,"f":5.8},{"c":"The Netherlands","s":"EAC","a":50,"r":6.5,"f":6.0},{"c":"The Netherlands","s":"EAC","a":55,"r":6.2,"f":6.1},{"c":"The Netherlands","s":"EAC","a":60,"r":5.8,"f":6.0},{"c":"The Netherlands","s":"EAC","a":65,"r":6.5,"f":5.8},{"c":"The Netherlands","s":"EAC","a":70,"r":5.9,"f":5.4},{"c":"The Netherlands","s":"EAC","a":75,"r":4.8,"f":4.9},{"c":"The Netherlands","s":"EAC","a":80,"f":4.3},{"c":"The Netherlands","s":"EAC","a":85,"r":3.2,"f":3.7},
{"c":"Turkey","s":"ESCC","a":30,"r":0.7,"f":0.8},{"c":"Turkey","s":"ESCC","a":35,"r":0.6,"f":0.7},{"c":"Turkey","s":"ESCC","a":40,"r":0.6,"f":0.8},{"c":"Turkey","s":"ESCC","a":45,"r":0.8,"f":1.0},{"c":"Turkey","s":"ESCC","a":50,"r":1.2,"f":1.2},{"c":"Turkey","s":"ESCC","a":55,"r":1.3,"f":1.5},{"c":"Turkey","s":"ESCC","a":60,"r":2.3,"f":1.7},{"c":"Turkey","s":"ESCC","a":65,"r":1.9,"f":1.7},{"c":"Turkey","s":"ESCC","a":70,"r":1.7,"f":1.6},{"c":"Turkey","s":"ESCC","a":75,"r":1.2,"f":1.4},{"c":"Turkey","s":"ESCC","a":80,"r":1.5,"f":1.2},{"c":"Turkey","s":"ESCC","a":85,"r":1.0,"f":1.0},
{"c":"United Kingdom","s":"ESCC","a":25,"r":1.7,"f":1.7},{"c":"United Kingdom","s":"ESCC","a":30,"r":1.1,"f":1.2},{"c":"United Kingdom","s":"ESCC","a":35,"r":1.0,"f":1.1},{"c":"United Kingdom","s":"ESCC","a":40,"r":1.2,"f":1.1},{"c":"United Kingdom","s":"ESCC","a":45,"r":1.2,"f":1.1},{"c":"United Kingdom","s":"ESCC","a":50,"r":1.2,"f":1.1},{"c":"United Kingdom","s":"ESCC","a":55,"r":1.2,"f":1.1},{"c":"United Kingdom","s":"ESCC","a":60,"r":1.4,"f":1.1},{"c":"United Kingdom","s":"ESCC","a":65,"r":1.2,"f":1.0},{"c":"United Kingdom","s":"ESCC","a":70,"r":1.0,"f":1.0},{"c":"United Kingdom","s":"ESCC","a":75,"r":0.8,"f":0.9},{"c":"United Kingdom","s":"ESCC","a":80,"r":0.8,"f":0.85},{"c":"United Kingdom","s":"ESCC","a":85,"r":0.8,"f":0.8},
{"c":"United Kingdom","s":"EAC","a":20,"r":2.9,"f":5.4},{"c":"United Kingdom","s":"EAC","a":25,"r":9.0,"f":5.5},{"c":"United Kingdom","s":"EAC","a":30,"r":3.9,"f":5.6},{"c":"United Kingdom","s":"EAC","a":35,"r":5.8,"f":5.7},{"c":"United Kingdom","s":"EAC","a":40,"r":6.3,"f":5.8},{"c":"United Kingdom","s":"EAC","a":45,"r":6.1,"f":5.9},{"c":"United Kingdom","s":"EAC","a":50,"r":6.3,"f":6.0},{"c":"United Kingdom","s":"EAC","a":55,"r":6.3,"f":5.9},{"c":"United Kingdom","s":"EAC","a":60,"r":6.1,"f":5.6},{"c":"United Kingdom","s":"EAC","a":65,"r":5.3,"f":5.3},{"c":"United Kingdom","s":"EAC","a":70,"r":4.8,"f":4.9},{"c":"United Kingdom","s":"EAC","a":75,"r":4.1,"f":4.5},{"c":"United Kingdom","s":"EAC","a":80,"r":3.3,"f":4.0},{"c":"United Kingdom","s":"EAC","a":85,"r":3.0,"f":3.4},
{"c":"United States","s":"ESCC","a":20,"r":1.1,"f":1.0},{"c":"United States","s":"ESCC","a":25,"r":1.9,"f":1.3},{"c":"United States","s":"ESCC","a":30,"r":1.4,"f":1.6},{"c":"United States","s":"ESCC","a":35,"r":1.7,"f":1.9},{"c":"United States","s":"ESCC","a":40,"r":2.1,"f":2.1},{"c":"United States","s":"ESCC","a":45,"r":2.6,"f":2.3},{"c":"United States","s":"ESCC","a":50,"r":2.6,"f":2.4},{"c":"United States","s":"ESCC","a":55,"r":2.8,"f":2.5},{"c":"United States","s":"ESCC","a":60,"r":2.9,"f":2.5},{"c":"United States","s":"ESCC","a":65,"r":2.3,"f":2.4},{"c":"United States","s":"ESCC","a":70,"r":2.1,"f":2.3},{"c":"United States","s":"ESCC","a":75,"r":2.1,"f":2.1},{"c":"United States","s":"ESCC","a":80,"r":2.1,"f":1.9},{"c":"United States","s":"ESCC","a":85,"r":1.7,"f":1.7},
{"c":"United States","s":"EAC","a":20,"r":2.9,"f":3.4},{"c":"United States","s":"EAC","a":25,"r":5.2,"f":4.6},{"c":"United States","s":"EAC","a":30,"r":5.2,"f":5.7},{"c":"United States","s":"EAC","a":35,"r":6.6,"f":6.7},{"c":"United States","s":"EAC","a":40,"r":7.4,"f":7.5},{"c":"United States","s":"EAC","a":45,"r":7.9,"f":8.1},{"c":"United States","s":"EAC","a":50,"r":8.9,"f":8.5},{"c":"United States","s":"EAC","a":55,"r":9.2,"f":8.7},{"c":"United States","s":"EAC","a":60,"r":9.4,"f":8.7},{"c":"United States","s":"EAC","a":65,"r":8.3,"f":8.4},{"c":"United States","s":"EAC","a":70,"r":7.4,"f":7.8},{"c":"United States","s":"EAC","a":75,"r":7.0,"f":7.0},{"c":"United States","s":"EAC","a":80,"r":6.1,"f":6.1},{"c":"United States","s":"EAC","a":85,"r":5.0,"f":5.1},
{"c":"Uruguay","s":"ESCC","a":35,"r":2.1,"f":2.6},{"c":"Uruguay","s":"ESCC","a":40,"r":3.0,"f":2.9},{"c":"Uruguay","s":"ESCC","a":45,"r":3.3,"f":3.2},{"c":"Uruguay","s":"ESCC","a":50,"r":3.7,"f":3.5},{"c":"Uruguay","s":"ESCC","a":55,"r":3.7,"f":3.7},{"c":"Uruguay","s":"ESCC","a":60,"r":3.2,"f":3.8},{"c":"Uruguay","s":"ESCC","a":65,"r":4.3,"f":3.7},{"c":"Uruguay","s":"ESCC","a":70,"r":3.7,"f":3.4},{"c":"Uruguay","s":"ESCC","a":75,"r":3.0,"f":3.1},{"c":"Uruguay","s":"ESCC","a":80,"r":2.5,"f":2.7},{"c":"Uruguay","s":"ESCC","a":85,"r":2.2,"f":2.4},
{"c":"Uruguay","s":"EAC","a":30,"r":1.1,"f":3.1},{"c":"Uruguay","s":"EAC","a":35,"f":3.3},{"c":"Uruguay","s":"EAC","a":40,"r":5.9,"f":3.6},{"c":"Uruguay","s":"EAC","a":45,"r":5.0,"f":3.9},{"c":"Uruguay","s":"EAC","a":50,"r":3.3,"f":4.1},{"c":"Uruguay","s":"EAC","a":55,"r":3.2,"f":4.3},{"c":"Uruguay","s":"EAC","a":60,"r":5.9,"f":4.2},{"c":"Uruguay","s":"EAC","a":65,"r":3.8,"f":4.0},{"c":"Uruguay","s":"EAC","a":70,"r":4.1,"f":3.7},{"c":"Uruguay","s":"EAC","a":75,"r":4.8,"f":3.4},{"c":"Uruguay","s":"EAC","a":80,"r":2.6,"f":3.1},{"c":"Uruguay","s":"EAC","a":85,"r":2.1,"f":2.9},
{"c":"Zimbabwe","s":"ESCC","a":25,"r":1.9,"f":2.4},{"c":"Zimbabwe","s":"ESCC","a":30,"r":1.7,"f":2.1},{"c":"Zimbabwe","s":"ESCC","a":35,"r":3.7,"f":1.9},{"c":"Zimbabwe","s":"ESCC","a":40,"r":2.5,"f":1.7},{"c":"Zimbabwe","s":"ESCC","a":45,"r":1.3,"f":1.6},{"c":"Zimbabwe","s":"ESCC","a":50,"r":0.5,"f":1.5},{"c":"Zimbabwe","s":"ESCC","a":55,"r":0.6,"f":1.5},{"c":"Zimbabwe","s":"ESCC","a":60,"r":1.3,"f":1.5},{"c":"Zimbabwe","s":"ESCC","a":65,"r":1.9,"f":1.5},{"c":"Zimbabwe","s":"ESCC","a":70,"r":1.5,"f":1.6},{"c":"Zimbabwe","s":"ESCC","a":75,"r":2.1,"f":2.2},
{"c":"~1"},{"c":"~2"},{"c":"~3"}
]},
"spacing":-1.6,
"vconcat":[
{
 "data":{"name":"top"},
 "title":{"text":"M","orient":"left","anchor":"middle","fontSize":14,"fontWeight":"normal","font":"Liberation Sans","color":"transparent","offset":10},
 "facet":{"field":"c","type":"nominal","header":{"labels":false,"labelExpr":"''","title":null,"labelPadding":0,"titlePadding":0}},
 "columns":6,
 "bounds":"flush",
 "spacing":{"column":1.2,"row":1},
 "spec":{
  "width":105,"height":112,
  "resolve":{"axis":{"x":"independent","y":"independent"}},
  "layer":[
   {"mark":{"type":"line","strokeWidth":1.2},
    "encoding":{
     "x":{"field":"a","type":"quantitative","scale":{"domain":[10.7,97],"nice":false,"zero":false},"axis":{"values":[20,40,60,80],"labels":false,"ticks":false,"title":null,"gridColor":"#dadada"}},
     "y":{"field":"f","type":"quantitative","scale":{"domain":[-3.6,44.3],"nice":false,"zero":false},"axis":{"values":[0,10,20,30,40],"title":null,"tickSize":6,"labelPadding":4,"gridColor":"#dadada"}},
     "color":{"field":"s","type":"nominal","title":"Cancer subtype","scale":{"domain":["ESCC","EAC"],"range":["#3c3cf0","#cc1f35"]}}
    }},
   {"transform":[{"filter":"datum.s === 'ESCC'"}],
    "mark":{"type":"point","shape":"circle","filled":false,"strokeWidth":1,"size":13},
    "encoding":{"x":{"field":"a","type":"quantitative","axis":{"orient":"top","values":[30,50,70,90],"labels":false,"ticks":false,"domain":false,"title":null,"gridColor":"#eeeeee"}},"y":{"field":"r","type":"quantitative","axis":{"orient":"right","values":[5,15,25,35],"labels":false,"ticks":false,"domain":false,"title":null,"gridColor":"#eeeeee"}},"color":{"field":"s","type":"nominal","title":"Cancer subtype"}}},
   {"transform":[{"filter":"datum.s === 'EAC'"}],
    "mark":{"type":"point","shape":"M-1,0H1M0,-1V1","filled":false,"strokeWidth":1,"size":16},
    "encoding":{"x":{"field":"a","type":"quantitative","axis":null},"y":{"field":"r","type":"quantitative","axis":null},"color":{"field":"s","type":"nominal","title":"Cancer subtype"}}},
   {"transform":[{"aggregate":[{"op":"count","as":"n"}],"groupby":["c"]}],
    "mark":{"type":"text","align":"right","baseline":"alphabetic","fontSize":10.5,"color":"#111111","font":"Liberation Sans"},
    "encoding":{"x":{"datum":95.5,"axis":null},"y":{"datum":38.3,"axis":null},"text":{"field":"c"}}}
  ]
 }
},
{
 "title":{"text":"Age","orient":"bottom","anchor":"middle","fontSize":14,"fontWeight":"normal","font":"Liberation Sans","color":"#1a1a1a","offset":16,"dx":27},
 "vconcat":[
 {
 "data":{"name":"rest"},
 "title":{"text":"Male-to-female incidence rates ratio","orient":"left","anchor":"middle","fontSize":14,"fontWeight":"normal","font":"Liberation Sans","color":"#1a1a1a","offset":10},
 "facet":{"field":"c","type":"nominal","header":{"labels":false,"labelExpr":"''","title":null,"labelPadding":0,"titlePadding":0}},
 "columns":6,
 "bounds":"flush",
 "spacing":{"column":1.2,"row":1},
 "spec":{
  "width":105,"height":116,
  "resolve":{"axis":{"x":"independent","y":"independent"}},
  "layer":[
   {"mark":{"type":"line","strokeWidth":1.2},
    "encoding":{
     "x":{"field":"a","type":"quantitative","scale":{"domain":[10.7,97],"nice":false,"zero":false},"axis":{"values":[20,40,60,80],"title":null,"tickSize":5,"labelPadding":4,"gridColor":"#dadada"}},
     "y":{"field":"f","type":"quantitative","scale":{"domain":[-2.1,22],"nice":false,"zero":false},"axis":{"values":[0,5,10,15,20],"title":null,"tickSize":6,"labelPadding":4,"gridColor":"#dadada"}},
     "color":{"field":"s","type":"nominal","title":"Cancer subtype","scale":{"domain":["ESCC","EAC"],"range":["#3c3cf0","#cc1f35"]}}
    }},
   {"transform":[{"filter":"datum.s === 'ESCC'"}],
    "mark":{"type":"point","shape":"circle","filled":false,"strokeWidth":1,"size":13},
    "encoding":{"x":{"field":"a","type":"quantitative","axis":{"orient":"top","values":[30,50,70,90],"labels":false,"ticks":false,"domain":false,"title":null,"gridColor":"#eeeeee"}},"y":{"field":"r","type":"quantitative","axis":{"orient":"right","values":[2.5,7.5,12.5,17.5],"labels":false,"ticks":false,"domain":false,"title":null,"gridColor":"#eeeeee"}},"color":{"field":"s","type":"nominal","title":"Cancer subtype"}}},
   {"transform":[{"filter":"datum.s === 'EAC'"}],
    "mark":{"type":"point","shape":"M-1,0H1M0,-1V1","filled":false,"strokeWidth":1,"size":16},
    "encoding":{"x":{"field":"a","type":"quantitative","axis":null},"y":{"field":"r","type":"quantitative","axis":null},"color":{"field":"s","type":"nominal","title":"Cancer subtype"}}},
   {"transform":[{"aggregate":[{"op":"count","as":"n"}],"groupby":["c"]},{"filter":"indexof(datum.c,'~') < 0"}],
    "mark":{"type":"text","align":"right","baseline":"alphabetic","fontSize":12,"color":"#111111","font":"Liberation Sans"},
    "encoding":{"x":{"datum":90.2,"axis":null},"y":{"datum":17.6,"axis":null},"text":{"field":"c"}}}
  ]
 }
 }
 ]
}
]
}
